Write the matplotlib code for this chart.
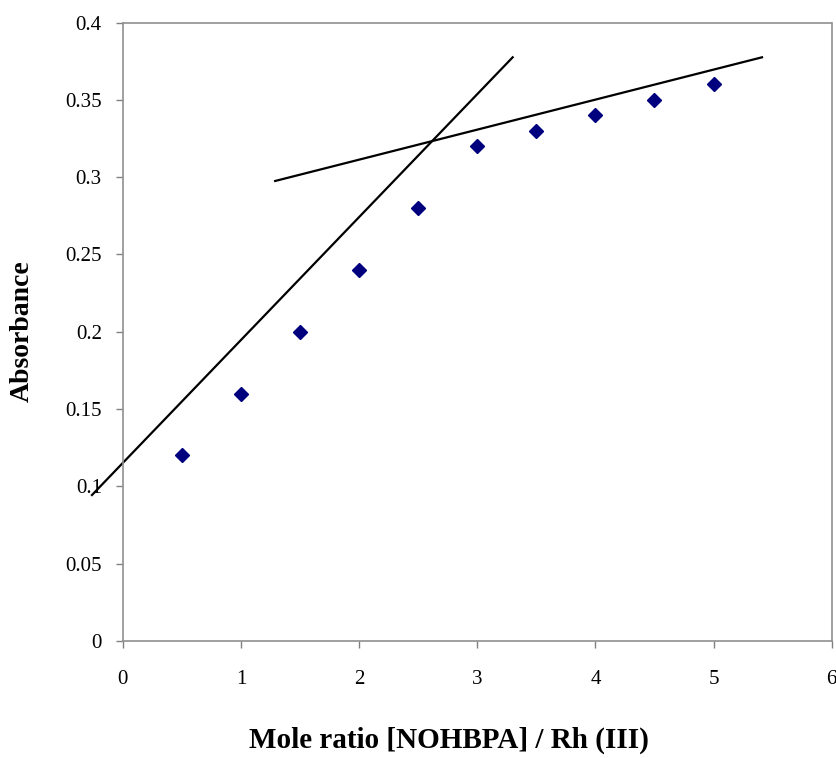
import numpy as np
import matplotlib
matplotlib.use('Agg')
import matplotlib.pyplot as plt

#-- data
mole_ratio = [0.5, 1.0, 1.5, 2.0, 2.5, 3.0, 3.5, 4.0, 4.5, 5.0]
absorbance = [0.12, 0.16, 0.20, 0.24, 0.28, 0.32, 0.33, 0.34, 0.35, 0.36]

#-- hand drawn tangent lines (end points)
line1_x = [-0.26, 3.30]
line1_y = [0.0944, 0.3775]
line2_x = [1.29, 5.41]
line2_y = [0.2975, 0.3775]

xticks = [0, 1, 2, 3, 4, 5, 6]
yticks = [0, 0.05, 0.1, 0.15, 0.2, 0.25, 0.3, 0.35, 0.4]
yticklabels = ['0', '0.05', '0.1', '0.15', '0.2', '0.25', '0.3', '0.35', '0.4']

plt.rcParams['font.family'] = ['Liberation Serif', 'DejaVu Serif']

fig = plt.figure(figsize=(8.37, 7.58), dpi=100)
ax = fig.add_axes([0.1466, 0.1544, 0.9937 - 0.1466, 0.9703 - 0.1544])

ax.plot(mole_ratio, absorbance, linestyle='none', marker='D', markersize=7,
        color='#00007f', markeredgecolor='#00007f', zorder=3)
ax.plot(line1_x, line1_y, color='black', linewidth=1.6, clip_on=False)
ax.plot(line2_x, line2_y, color='black', linewidth=1.6, clip_on=False)

ax.set_xlim(0, 6)
ax.set_ylim(0, 0.4)
ax.set_xticks(xticks)
ax.set_yticks(yticks)
ax.set_yticklabels(yticklabels)
ax.tick_params(axis='both', direction='out', length=5, width=1, color='#808080',
               labelsize=15)
ax.tick_params(axis='y', pad=10)
ax.tick_params(axis='x', pad=16)

for side in ['left', 'bottom', 'top', 'right']:
    ax.spines[side].set_color('#909090')
    ax.spines[side].set_linewidth(1.2)
ax.spines['top'].set_linestyle((0, (1, 1)))

fig.text(449 / 837, 1 - 740 / 758, 'Mole ratio [NOHBPA] / Rh (III)', fontsize=21,
         fontweight='bold', ha='center', va='center')
fig.text(22 / 837, 1 - 331 / 758, 'Absorbance', fontsize=20, fontweight='bold',
         rotation=90, ha='center', va='center')

fig.savefig('out.png', dpi=100)
plt.close()
